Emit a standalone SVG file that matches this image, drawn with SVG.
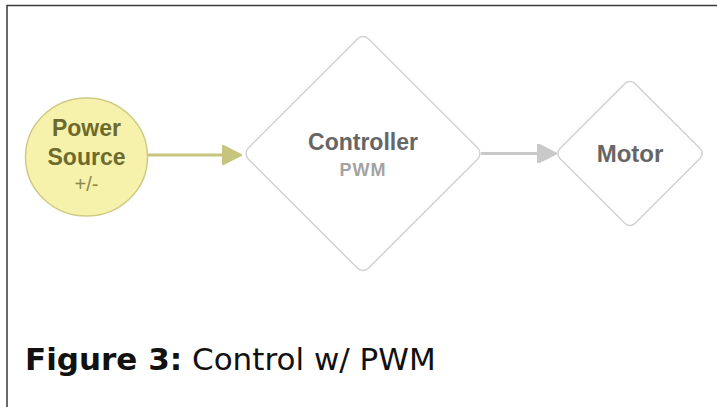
<svg xmlns="http://www.w3.org/2000/svg" width="717" height="407" viewBox="0 0 717 407">
  <style>
    .frame { fill: none; stroke: #3a3a3a; stroke-width: 1.5; }
    .label { font-family: "Liberation Sans", Arial, sans-serif; font-weight: bold; text-anchor: middle; }
    .sub { font-family: "Liberation Sans", Arial, sans-serif; text-anchor: middle; }
    .diamond { fill: #ffffff; stroke: #d2d2d2; stroke-width: 1.5; }
    .caption { font-family: "DejaVu Sans", sans-serif; font-size: 31px; fill: #111111; }
  </style>
  <defs>
    <marker id="head-olive" viewBox="0 0 10 10" refX="1" refY="5" markerWidth="6.5" markerHeight="6.5" markerUnits="strokeWidth" orient="auto">
      <path d="M0,0 L10,5 L0,10 Z" fill="#c7c47e" stroke="#c7c47e" stroke-linejoin="round"/>
    </marker>
    <marker id="head-gray" viewBox="0 0 10 10" refX="1" refY="5" markerWidth="6.5" markerHeight="6.5" markerUnits="strokeWidth" orient="auto">
      <path d="M0,0 L10,5 L0,10 Z" fill="#c9c9c9" stroke="#c9c9c9" stroke-linejoin="round"/>
    </marker>
  </defs>

  <rect width="717" height="407" fill="#ffffff"/>
  <!-- page frame: top and left edges only -->
  <path class="frame" d="M7,407 L7,5.5 L717,5.5"/>

  <g id="connectors">
    <line x1="148" y1="155" x2="224" y2="155" stroke="#c7c47e" stroke-width="3" marker-end="url(#head-olive)"/>
    <line x1="481" y1="153.5" x2="539" y2="153.5" stroke="#c9c9c9" stroke-width="3" marker-end="url(#head-gray)"/>
  </g>

  <g id="power-source">
    <ellipse cx="86.5" cy="157" rx="61" ry="59" fill="#f6f2ab" stroke="#cfcb84" stroke-width="1.5"/>
    <text class="label" x="86.5" y="136" font-size="23" fill="#6d6a2e">Power</text>
    <text class="label" x="86.5" y="165" font-size="23" fill="#6d6a2e">Source</text>
    <text class="sub" x="86.5" y="191" font-size="20" fill="#8c8950">+/-</text>
  </g>

  <g id="controller">
    <rect class="diamond" x="278" y="68.5" width="170" height="170" rx="8" transform="rotate(45 363 153.5)"/>
    <text class="label" x="363" y="150" font-size="23" fill="#666666">Controller</text>
    <text class="label" x="363" y="176" font-size="18" letter-spacing="1" fill="#a3a3a3">PWM</text>
  </g>

  <g id="motor">
    <rect class="diamond" x="577" y="100.5" width="106" height="106" rx="7" transform="rotate(45 630 153.5)"/>
    <text class="label" x="630" y="162" font-size="24" fill="#666666">Motor</text>
  </g>

  <text class="caption" x="25" y="370"><tspan font-weight="bold">Figure 3:</tspan> Control w/ PWM</text>
</svg>
